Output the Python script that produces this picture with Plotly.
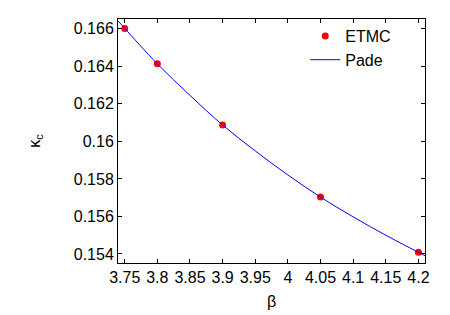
import plotly.graph_objects as go

# ETMC data points
beta_etmc = [3.75, 3.80, 3.90, 4.05, 4.20]
kappa_etmc = [0.16602, 0.16413, 0.16087, 0.15703, 0.15409]

# Pade curve
beta_pade = [3.74, 3.75, 3.80, 3.85, 3.90, 3.95, 4.00, 4.05, 4.10, 4.15, 4.20, 4.21]
kappa_pade = [0.16641, 0.16602, 0.16413, 0.16245, 0.16087, 0.15949, 0.15821,
              0.15703, 0.15598, 0.15500, 0.15409, 0.15391]

x_ticks = [3.75, 3.8, 3.85, 3.9, 3.95, 4.0, 4.05, 4.1, 4.15, 4.2]
x_ticktext = ["3.75", "3.8", "3.85", "3.9", "3.95", "4", "4.05", "4.1", "4.15", "4.2"]
y_ticks = [0.154, 0.156, 0.158, 0.160, 0.162, 0.164, 0.166]
y_ticktext = ["0.154", "0.156", "0.158", "0.16", "0.162", "0.164", "0.166"]

FONT = "Liberation Sans, Arial, sans-serif"

fig = go.Figure()
fig.add_trace(go.Scatter(
    x=beta_etmc, y=kappa_etmc, mode="markers", name="ETMC",
    marker=dict(color="#ff0000", size=7, line=dict(width=0)),
))
fig.add_trace(go.Scatter(
    x=beta_pade, y=kappa_pade, mode="lines", name="Pade",
    line=dict(color="#0000ff", width=1, shape="spline"),
))

axis_common = dict(
    showline=True, linecolor="black", linewidth=1, mirror="ticks",
    ticks="inside", ticklen=4, tickcolor="black", tickwidth=1,
    showgrid=False, zeroline=False, automargin=False,
    tickfont=dict(family=FONT, size=16, color="black"),
)

fig.update_layout(
    width=450, height=315,
    margin=dict(l=110, r=33, t=11, b=60),
    paper_bgcolor="white", plot_bgcolor="white",
    font=dict(family=FONT, size=16, color="black"),
    showlegend=True,
    legend=dict(
        x=0.61, y=1.0, xanchor="left", yanchor="top",
        bgcolor="rgba(0,0,0,0)", font=dict(family=FONT, size=16),
        tracegroupgap=0,
    ),
    xaxis=dict(range=[3.7397, 4.2101], tickvals=x_ticks, ticktext=x_ticktext,
               title=dict(text="β", font=dict(family=FONT, size=16), standoff=10),
               **axis_common),
    yaxis=dict(range=[0.15352, 0.16652], tickvals=y_ticks, ticktext=y_ticktext,
               title=dict(text="κ<sub>c</sub>", font=dict(family=FONT, size=16), standoff=29),
               **axis_common),
)

fig.write_html("out.html")
